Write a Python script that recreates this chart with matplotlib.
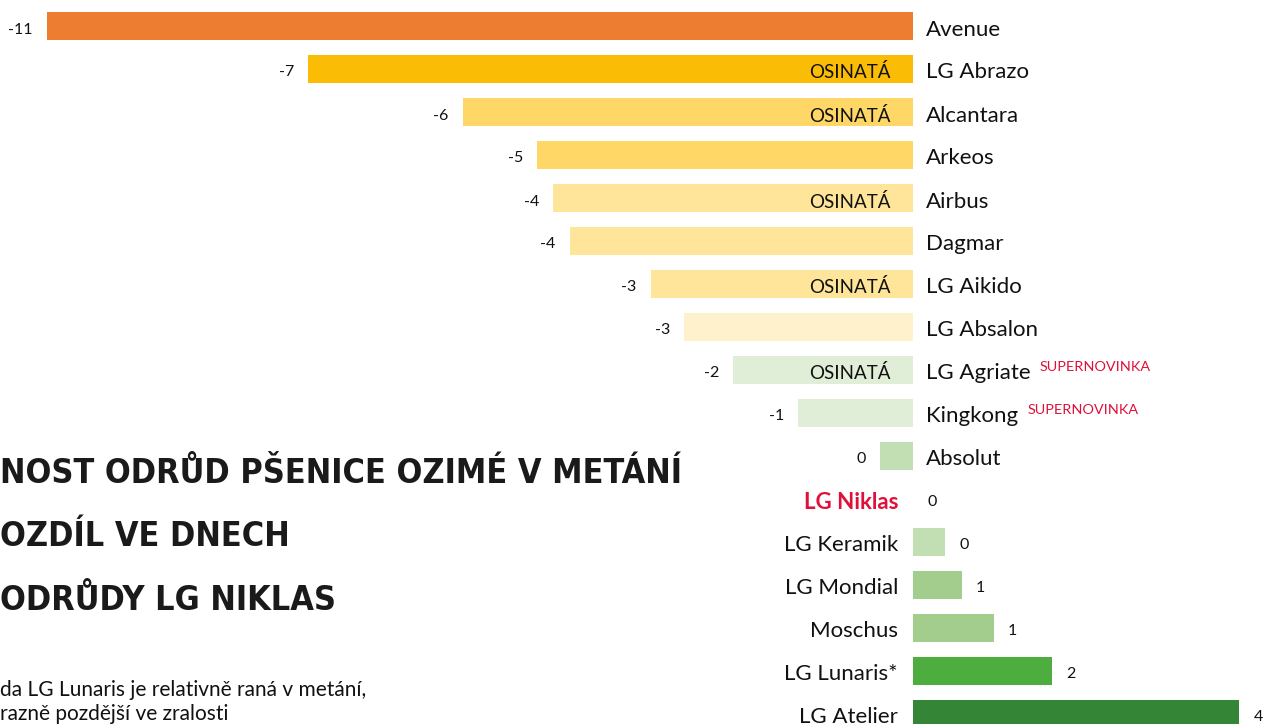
import matplotlib.pyplot as plt
from matplotlib import font_manager as fm

# odrůdy shora dolů
odrudy = ['Avenue', 'LG Abrazo', 'Alcantara', 'Arkeos', 'Airbus', 'Dagmar',
          'LG Aikido', 'LG Absalon', 'LG Agriate', 'Kingkong', 'Absolut',
          'LG Niklas', 'LG Keramik', 'LG Mondial', 'Moschus', 'LG Lunaris*',
          'LG Atelier']
# rozdíl v metání oproti LG Niklas (dny, odečteno z délky sloupců)
rozdil = [-10.83, -7.56, -5.63, -4.70, -4.50, -4.29, -3.28, -2.86, -2.25,
          -1.44, -0.41, 0.0, 0.40, 0.61, 1.01, 1.74, 4.08]
popisky = ['-11', '-7', '-6', '-5', '-4', '-4', '-3', '-3', '-2', '-1', '0',
           '0', '0', '1', '1', '2', '4']
osinate = ['LG Abrazo', 'Alcantara', 'Airbus', 'LG Aikido', 'LG Agriate']
novinky = ['LG Agriate', 'Kingkong']
barvy = ['#ED7D31', '#FBBC05', '#FFD766', '#FFD766', '#FFE599', '#FFE599',
         '#FFE599', '#FFF1CC', '#E0EED8', '#E0EED8', '#C2DFB3', '#FFFFFF',
         '#C2DFB3', '#A3CD8C', '#A3CD8C', '#4DAE3F', '#348536']

nadpis = ['NOST ODRŮD PŠENICE OZIMÉ V METÁNÍ', 'OZDÍL VE DNECH', 'ODRŮDY LG NIKLAS']
poznamka = ['da LG Lunaris je relativně raná v metání,', 'razně pozdější ve zralosti']

plt.rcParams['font.family'] = ['Lato', 'DejaVu Sans']


# najdi nějaké úzké tučné písmo pro nadpis
def title_font():
    found = []
    for f in fm.fontManager.ttflist:
        w = f.weight if isinstance(f.weight, int) else fm.weight_dict.get(f.weight, 400)
        st = f.stretch if isinstance(f.stretch, int) else fm.stretch_dict.get(f.stretch, 500)
        narrow = st < 500 or 'Condensed' in f.name or 'Narrow' in f.name
        if narrow and w >= 600 and f.style == 'normal':
            found.append((st, abs(w - 700), f.fname))
    if found:
        found.sort()
        return fm.FontProperties(fname=found[0][2])
    return fm.FontProperties(family='DejaVu Sans', weight='bold')


px = 80.0   # pixelů na den
row = 43.0  # výška řádku v pixelech

fig = plt.figure(figsize=(12.63, 7.24), dpi=100)
ax = fig.add_axes([0, 0, 1, 1])
ax.set_xlim(-913 / px, 350 / px)
ax.set_ylim((724 - 26) / row, -26 / row)
ax.axis('off')

y = list(range(len(odrudy)))
ax.barh(y, rozdil, height=0.67, color=barvy)

pt = 0.72  # px -> body
dy = -3.5 * pt  # texty sedí o kousek níž než střed sloupce
for i, name in enumerate(odrudy):
    v = rozdil[i]
    if i <= 10:
        t = ax.annotate(name, (0, i), xytext=(13 * pt, dy), textcoords='offset points',
                        ha='left', va='center', fontsize=16, color='#111111')
        ax.annotate(popisky[i], (v, i), xytext=(-14 * pt, dy), textcoords='offset points',
                    ha='right', va='center', fontsize=11.5, color='#111111')
        if name in osinate:
            ax.annotate('OSINATÁ', (0, i), xytext=(-22 * pt, dy), textcoords='offset points',
                        ha='right', va='center', fontsize=13.5, color='#111111')
        if name in novinky:
            ax.annotate('SUPERNOVINKA', (1, 1), xycoords=t, xytext=(9 * pt, 2.5 * pt),
                        textcoords='offset points', ha='left', va='top',
                        fontsize=10.4, color='#E0103A')
    else:
        if name == 'LG Niklas':
            ax.annotate(name, (0, i), xytext=(-15 * pt, dy), textcoords='offset points',
                        ha='right', va='center', fontsize=16, color='#E0103A',
                        fontweight='bold')
        else:
            ax.annotate(name, (0, i), xytext=(-15 * pt, dy), textcoords='offset points',
                        ha='right', va='center', fontsize=16, color='#111111')
        ax.annotate(popisky[i], (v, i), xytext=(14 * pt, dy), textcoords='offset points',
                    ha='left', va='center', fontsize=11.5, color='#111111')

# nadpis (oříznutý vlevo), velikost podle šířky prvního řádku
fp = title_font()
fp.set_size(34)
titles = []
for k, line in enumerate(nadpis):
    titles.append(fig.text(0.0, 1 - (483 + 63.5 * k) / 724, line, ha='left',
                           va='baseline', fontproperties=fp.copy(), color='#1A1A1A'))
r = fig.canvas.get_renderer()
w0 = titles[0].get_window_extent(r).width
size = min(34 * 683 / w0, 52)
for t in titles:
    t.set_fontsize(size)

for k, line in enumerate(poznamka):
    fig.text(0.0, 1 - (690 + 24 * k) / 724, line, ha='left', va='center',
             fontsize=15, color='#111111')

fig.savefig('out.png', dpi=100)
